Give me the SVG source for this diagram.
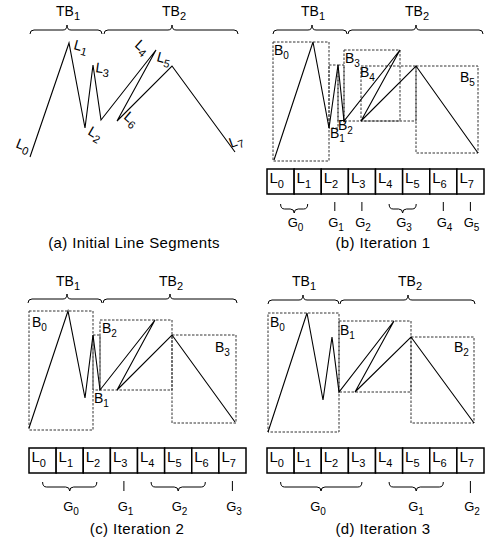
<svg xmlns="http://www.w3.org/2000/svg" width="487" height="548" viewBox="0 0 487 548">
<style>
text{font-family:"Liberation Sans",Arial,sans-serif;fill:#000}
.poly{fill:none;stroke:#000;stroke-width:1.1;stroke-linejoin:miter}
.box{fill:none;stroke:#333;stroke-width:1;stroke-dasharray:2.5 1.5}
.brace{fill:none;stroke:#000;stroke-width:1}
.tick{stroke:#000;stroke-width:1}
.cell{fill:#fff;stroke:#000;stroke-width:1.5}
.tb{font-size:14px;text-anchor:middle}
.bl{font-size:14px}
.cl{font-size:15px}
.g{font-size:13px;text-anchor:middle}
.cap{font-size:15px;letter-spacing:0.4px;text-anchor:middle}
.seg{font-size:14px}
</style>

<!-- Panel (a) -->
<g id="panel-a">
  <g id="a-braces">
    <path class="brace" d="M30,34 Q30,30 34,30 H63 Q67,30 67,25 Q67,30 71,30 H98 Q102,30 102,34"/>
    <path class="brace" d="M104,34 Q104,30 108,30 H168 Q172,30 172,25 Q172,30 176,30 H234 Q238,30 238,34"/>
    <text class="tb" x="68" y="16">TB<tspan font-size="11" dy="4">1</tspan></text>
    <text class="tb" x="174" y="16">TB<tspan font-size="11" dy="4">2</tspan></text>
  </g>
  <g id="a-segments">
    <polyline class="poly" points="30,157 69,43 85,128 93,65 101,120 156,50 117,121 172,66 235,152"/>
  </g>
  <g id="a-labels">
    <text class="seg" transform="translate(15,147) rotate(22)">L<tspan font-size="11" dy="3.5">0</tspan></text>
    <text class="seg" transform="translate(73,49) rotate(15)">L<tspan font-size="11" dy="3.5">1</tspan></text>
    <text class="seg" transform="translate(87,134) rotate(30)">L<tspan font-size="11" dy="3.5">2</tspan></text>
    <text class="seg" transform="translate(95,72) rotate(8)">L<tspan font-size="11" dy="3.5">3</tspan></text>
    <text class="seg" transform="translate(134,46) rotate(42)">L<tspan font-size="11" dy="3.5">4</tspan></text>
    <text class="seg" transform="translate(156,61) rotate(15)">L<tspan font-size="11" dy="3.5">5</tspan></text>
    <text class="seg" transform="translate(123,118) rotate(40)">L<tspan font-size="11" dy="3.5">6</tspan></text>
    <text class="seg" transform="translate(231,148) rotate(-20)">L<tspan font-size="11" dy="3.5">7</tspan></text>
  </g>
  <text class="cap" x="134" y="248">(a) Initial Line Segments</text>
</g>

<!-- Panel (b) -->
<g id="panel-b">
  <g id="b-braces">
    <path class="brace" d="M273,34 Q273,30 277,30 H308 Q312,30 312,25 Q312,30 316,30 H343 Q347,30 347,34"/>
    <path class="brace" d="M348,34 Q348,30 352,30 H412 Q416,30 416,25 Q416,30 420,30 H479 Q483,30 483,34"/>
    <text class="tb" x="313" y="16">TB<tspan font-size="11" dy="4">1</tspan></text>
    <text class="tb" x="417" y="16">TB<tspan font-size="11" dy="4">2</tspan></text>
  </g>
  <g id="b-boxes">
    <rect class="box" x="273" y="42" width="56" height="119"/>
    <rect class="box" x="329" y="65" width="9" height="63"/>
    <rect class="box" x="338" y="65" width="6" height="56"/>
    <rect class="box" x="344" y="50" width="56" height="71"/>
    <rect class="box" x="361" y="66" width="55" height="55"/>
    <rect class="box" x="416" y="66" width="62" height="87"/>
  </g>
  <g id="b-segments">
    <polyline class="poly" points="274,160 313,42 329,128 338,65 344,121 400,50 361,121 416,66 478,153"/>
  </g>
  <g id="b-box-labels">
    <text class="bl" x="274" y="55">B<tspan font-size="10" dy="4">0</tspan></text>
    <text class="bl" x="330" y="138">B<tspan font-size="10" dy="4">1</tspan></text>
    <text class="bl" x="338" y="130">B<tspan font-size="10" dy="4">2</tspan></text>
    <text class="bl" x="345" y="63">B<tspan font-size="10" dy="4">3</tspan></text>
    <text class="bl" x="360" y="77">B<tspan font-size="10" dy="4">4</tspan></text>
    <text class="bl" x="460" y="82">B<tspan font-size="10" dy="4">5</tspan></text>
  </g>
  <g id="b-array">
    <rect class="cell" x="267" y="169" width="27.125" height="25"/>
    <rect class="cell" x="294.125" y="169" width="27.125" height="25"/>
    <rect class="cell" x="321.25" y="169" width="27.125" height="25"/>
    <rect class="cell" x="348.375" y="169" width="27.125" height="25"/>
    <rect class="cell" x="375.5" y="169" width="27.125" height="25"/>
    <rect class="cell" x="402.625" y="169" width="27.125" height="25"/>
    <rect class="cell" x="429.75" y="169" width="27.125" height="25"/>
    <rect class="cell" x="456.875" y="169" width="27.125" height="25"/>
    <text class="cl" x="269.5" y="183">L<tspan font-size="11" dy="5">0</tspan></text>
    <text class="cl" x="296.6" y="183">L<tspan font-size="11" dy="5">1</tspan></text>
    <text class="cl" x="323.7" y="183">L<tspan font-size="11" dy="5">2</tspan></text>
    <text class="cl" x="350.9" y="183">L<tspan font-size="11" dy="5">3</tspan></text>
    <text class="cl" x="378" y="183">L<tspan font-size="11" dy="5">4</tspan></text>
    <text class="cl" x="405.1" y="183">L<tspan font-size="11" dy="5">5</tspan></text>
    <text class="cl" x="432.2" y="183">L<tspan font-size="11" dy="5">6</tspan></text>
    <text class="cl" x="459.4" y="183">L<tspan font-size="11" dy="5">7</tspan></text>
  </g>
  <g id="b-groups">
    <path class="brace" d="M280.6,204 Q280.6,209 284.6,209 H290.2 Q294.2,209 294.2,213 Q294.2,209 298.2,209 H303.7 Q307.7,209 307.7,204"/>
    <line class="tick" x1="334.8" y1="202" x2="334.8" y2="211"/>
    <line class="tick" x1="361.9" y1="202" x2="361.9" y2="211"/>
    <path class="brace" d="M389.1,204 Q389.1,209 393.1,209 H398.6 Q402.6,209 402.6,213 Q402.6,209 406.6,209 H412.2 Q416.2,209 416.2,204"/>
    <line class="tick" x1="443.3" y1="202" x2="443.3" y2="211"/>
    <line class="tick" x1="470.4" y1="202" x2="470.4" y2="211"/>
    <text class="g" x="295.5" y="227">G<tspan font-size="10" dy="3.5">0</tspan></text>
    <text class="g" x="336" y="227">G<tspan font-size="10" dy="3.5">1</tspan></text>
    <text class="g" x="363" y="227">G<tspan font-size="10" dy="3.5">2</tspan></text>
    <text class="g" x="404" y="227">G<tspan font-size="10" dy="3.5">3</tspan></text>
    <text class="g" x="444.5" y="227">G<tspan font-size="10" dy="3.5">4</tspan></text>
    <text class="g" x="471.5" y="227">G<tspan font-size="10" dy="3.5">5</tspan></text>
  </g>
  <text class="cap" x="383" y="248">(b) Iteration 1</text>
</g>

<!-- Panel (c) -->
<g id="panel-c">
  <g id="c-braces">
    <path class="brace" d="M28,303 Q28,299 32,299 H63 Q67,299 67,294 Q67,299 71,299 H98 Q102,299 102,303"/>
    <path class="brace" d="M103,303 Q103,299 107,299 H166 Q170,299 170,294 Q170,299 174,299 H233 Q237,299 237,303"/>
    <text class="tb" x="68" y="286">TB<tspan font-size="11" dy="4">1</tspan></text>
    <text class="tb" x="171" y="286">TB<tspan font-size="11" dy="4">2</tspan></text>
  </g>
  <g id="c-boxes">
    <rect class="box" x="29" y="311" width="64" height="119"/>
    <rect class="box" x="93" y="335" width="7" height="55"/>
    <rect class="box" x="100" y="320" width="72" height="70"/>
    <rect class="box" x="172" y="335" width="64" height="88"/>
  </g>
  <g id="c-segments">
    <polyline class="poly" points="29,428 68,311 85,398 93,335 100,390 155,320 117,390 172,335 235,422"/>
  </g>
  <g id="c-box-labels">
    <text class="bl" x="32" y="327">B<tspan font-size="10" dy="4">0</tspan></text>
    <text class="bl" x="94" y="403">B<tspan font-size="10" dy="4">1</tspan></text>
    <text class="bl" x="102" y="333">B<tspan font-size="10" dy="4">2</tspan></text>
    <text class="bl" x="215" y="352">B<tspan font-size="10" dy="4">3</tspan></text>
  </g>
  <g id="c-array">
    <rect class="cell" x="29" y="448" width="27.125" height="25"/>
    <rect class="cell" x="56.125" y="448" width="27.125" height="25"/>
    <rect class="cell" x="83.25" y="448" width="27.125" height="25"/>
    <rect class="cell" x="110.375" y="448" width="27.125" height="25"/>
    <rect class="cell" x="137.5" y="448" width="27.125" height="25"/>
    <rect class="cell" x="164.625" y="448" width="27.125" height="25"/>
    <rect class="cell" x="191.75" y="448" width="27.125" height="25"/>
    <rect class="cell" x="218.875" y="448" width="27.125" height="25"/>
    <text class="cl" x="31.5" y="462">L<tspan font-size="11" dy="5">0</tspan></text>
    <text class="cl" x="58.6" y="462">L<tspan font-size="11" dy="5">1</tspan></text>
    <text class="cl" x="85.7" y="462">L<tspan font-size="11" dy="5">2</tspan></text>
    <text class="cl" x="112.9" y="462">L<tspan font-size="11" dy="5">3</tspan></text>
    <text class="cl" x="140" y="462">L<tspan font-size="11" dy="5">4</tspan></text>
    <text class="cl" x="167.1" y="462">L<tspan font-size="11" dy="5">5</tspan></text>
    <text class="cl" x="194.2" y="462">L<tspan font-size="11" dy="5">6</tspan></text>
    <text class="cl" x="221.4" y="462">L<tspan font-size="11" dy="5">7</tspan></text>
  </g>
  <g id="c-groups">
    <path class="brace" d="M42.6,482 Q42.6,487 46.6,487 H65.7 Q69.7,487 69.7,491 Q69.7,487 73.7,487 H92.8 Q96.8,487 96.8,482"/>
    <line class="tick" x1="123.9" y1="481" x2="123.9" y2="491"/>
    <path class="brace" d="M151.1,482 Q151.1,487 155.1,487 H174.2 Q178.2,487 178.2,491 Q178.2,487 182.2,487 H201.3 Q205.3,487 205.3,482"/>
    <line class="tick" x1="232.4" y1="481" x2="232.4" y2="491"/>
    <text class="g" x="71" y="511">G<tspan font-size="10" dy="4">0</tspan></text>
    <text class="g" x="125.5" y="511">G<tspan font-size="10" dy="4">1</tspan></text>
    <text class="g" x="179.5" y="511">G<tspan font-size="10" dy="4">2</tspan></text>
    <text class="g" x="234" y="511">G<tspan font-size="10" dy="4">3</tspan></text>
  </g>
  <text class="cap" x="137" y="534">(c) Iteration 2</text>
</g>

<!-- Panel (d) -->
<g id="panel-d">
  <g id="d-braces">
    <path class="brace" d="M268,304 Q268,300 272,300 H299 Q303,300 303,295 Q303,300 307,300 H335 Q339,300 339,304"/>
    <path class="brace" d="M340,304 Q340,300 344,300 H404 Q408,300 408,295 Q408,300 412,300 H471 Q475,300 475,304"/>
    <text class="tb" x="304" y="286">TB<tspan font-size="11" dy="4">1</tspan></text>
    <text class="tb" x="410" y="286">TB<tspan font-size="11" dy="4">2</tspan></text>
  </g>
  <g id="d-boxes">
    <rect class="box" x="268" y="313" width="71" height="119"/>
    <rect class="box" x="339" y="321" width="72" height="71"/>
    <rect class="box" x="411" y="337" width="63" height="86"/>
  </g>
  <g id="d-segments">
    <polyline class="poly" points="268,432 307,313 323,400 332,337 339,392 394,321 355,392 411,337 474,423"/>
  </g>
  <g id="d-box-labels">
    <text class="bl" x="270" y="327">B<tspan font-size="10" dy="4">0</tspan></text>
    <text class="bl" x="340" y="335">B<tspan font-size="10" dy="4">1</tspan></text>
    <text class="bl" x="454" y="352">B<tspan font-size="10" dy="4">2</tspan></text>
  </g>
  <g id="d-array">
    <rect class="cell" x="267" y="448" width="27.125" height="25"/>
    <rect class="cell" x="294.125" y="448" width="27.125" height="25"/>
    <rect class="cell" x="321.25" y="448" width="27.125" height="25"/>
    <rect class="cell" x="348.375" y="448" width="27.125" height="25"/>
    <rect class="cell" x="375.5" y="448" width="27.125" height="25"/>
    <rect class="cell" x="402.625" y="448" width="27.125" height="25"/>
    <rect class="cell" x="429.75" y="448" width="27.125" height="25"/>
    <rect class="cell" x="456.875" y="448" width="27.125" height="25"/>
    <text class="cl" x="269.5" y="462">L<tspan font-size="11" dy="5">0</tspan></text>
    <text class="cl" x="296.6" y="462">L<tspan font-size="11" dy="5">1</tspan></text>
    <text class="cl" x="323.7" y="462">L<tspan font-size="11" dy="5">2</tspan></text>
    <text class="cl" x="350.9" y="462">L<tspan font-size="11" dy="5">3</tspan></text>
    <text class="cl" x="378" y="462">L<tspan font-size="11" dy="5">4</tspan></text>
    <text class="cl" x="405.1" y="462">L<tspan font-size="11" dy="5">5</tspan></text>
    <text class="cl" x="432.2" y="462">L<tspan font-size="11" dy="5">6</tspan></text>
    <text class="cl" x="459.4" y="462">L<tspan font-size="11" dy="5">7</tspan></text>
  </g>
  <g id="d-groups">
    <path class="brace" d="M280.6,482 Q280.6,487 284.6,487 H317 Q321,487 321,491 Q321,487 325,487 H357.9 Q361.9,487 361.9,482"/>
    <path class="brace" d="M389.1,482 Q389.1,487 393.1,487 H412.2 Q416.2,487 416.2,491 Q416.2,487 420.2,487 H439.3 Q443.3,487 443.3,482"/>
    <line class="tick" x1="470.4" y1="481" x2="470.4" y2="493"/>
    <text class="g" x="318" y="511">G<tspan font-size="10" dy="4">0</tspan></text>
    <text class="g" x="416" y="511">G<tspan font-size="10" dy="4">1</tspan></text>
    <text class="g" x="472" y="511">G<tspan font-size="10" dy="4">2</tspan></text>
  </g>
  <text class="cap" x="383" y="534">(d) Iteration 3</text>
</g>
</svg>
